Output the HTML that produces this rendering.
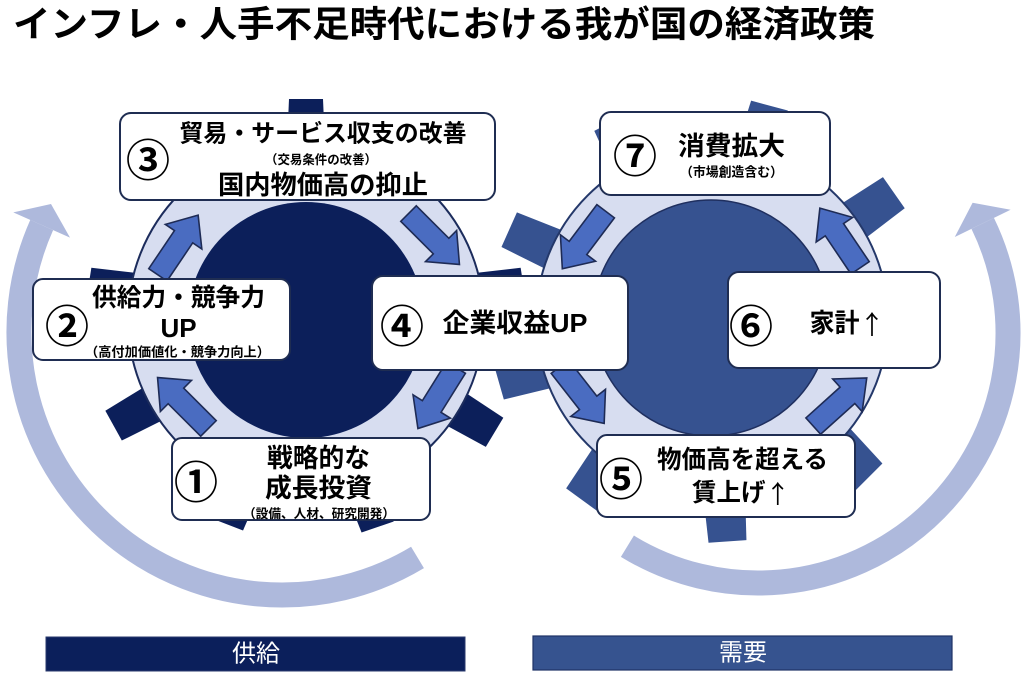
<!DOCTYPE html>
<html>
<head>
<meta charset="utf-8">
<style>
html,body{margin:0;padding:0;background:#fff;}
svg{display:block;}
text{font-family:"Liberation Sans","Noto Sans CJK JP",sans-serif;}
.b{font-weight:700;fill:#000;}
.c{font-family:"Noto Sans CJK JP",sans-serif;font-weight:700;fill:#000;}
.ar{font-family:"Noto Sans CJK JP",sans-serif;font-weight:400;}
</style>
</head>
<body>
<svg width="1024" height="679" viewBox="0 0 1024 679" xmlns="http://www.w3.org/2000/svg">
<rect width="1024" height="679" fill="#fff"/>

<!-- Title -->
<text class="b" x="13" y="24" font-size="36" dominant-baseline="central" textLength="862" lengthAdjust="spacingAndGlyphs">インフレ・人手不足時代における我が国の経済政策</text>

<!-- Big arcs -->
<path d="M417.5 557.4 A263 263 0 0 1 41.7 225.0" fill="none" stroke="#aeb9dc" stroke-width="25"/>
<polygon points="13.3,212.4 70,237.6 51,204" fill="#aeb9dc"/>
<path d="M627.4 546.2 A250 250 0 0 0 982.7 223.4" fill="none" stroke="#aeb9dc" stroke-width="25"/>
<polygon points="954.8,237 1010.6,209.8 972.6,202.7" fill="#aeb9dc"/>

<!-- Left gear -->
<g transform="translate(306,319)">
  <g fill="#0c1f5a">
    <polygon transform="rotate(31)" points="150,-20 220,-17 220,17 150,20"/>
    <polygon transform="rotate(71)" points="150,-20 220,-17 220,17 150,20"/>
    <polygon transform="rotate(111)" points="150,-20 220,-17 220,17 150,20"/>
    <polygon transform="rotate(151)" points="150,-20 220,-17 220,17 150,20"/>
    <polygon transform="rotate(189)" points="150,-20 220,-17 220,17 150,20"/>
    <polygon transform="rotate(231)" points="150,-20 220,-17 220,17 150,20"/>
    <polygon transform="rotate(270)" points="150,-20 220,-17 220,17 150,20"/>
    <polygon transform="rotate(311)" points="150,-20 220,-17 220,17 150,20"/>
    <polygon transform="rotate(351)" points="150,-20 220,-17 220,17 150,20"/>
  </g>
  <circle r="178" fill="#d7ddf0" stroke="#1c2c5c" stroke-width="2"/>
  <circle cy="1" r="118" fill="#0c1f5a"/>
</g>

<!-- Right gear -->
<g transform="translate(712,320)">
  <g fill="#365290">
    <polygon transform="rotate(5)" points="150,-22 222,-19 222,19 150,22"/>
    <polygon transform="rotate(45)" points="150,-22 222,-19 222,19 150,22"/>
    <polygon transform="rotate(86)" points="150,-22 222,-19 222,19 150,22"/>
    <polygon transform="rotate(126)" points="150,-22 222,-19 222,19 150,22"/>
    <polygon transform="rotate(164)" points="150,-22 222,-19 222,19 150,22"/>
    <polygon transform="rotate(204)" points="150,-22 222,-19 222,19 150,22"/>
    <polygon transform="rotate(243)" points="150,-22 222,-19 222,19 150,22"/>
    <polygon transform="rotate(285)" points="150,-22 222,-19 222,19 150,22"/>
    <polygon transform="rotate(325)" points="150,-22 222,-19 222,19 150,22"/>
  </g>
  <circle r="176" fill="#d7ddf0" stroke="#24386a" stroke-width="2"/>
  <circle cx="-1" cy="-2" r="118" fill="#365290" stroke="#1f2f5f" stroke-width="1.5"/>
</g>

<!-- Small block arrows -->
<g fill="#4a6cc1" stroke="#1e2b55" stroke-width="1.6" stroke-linejoin="miter">
  <polygon transform="translate(183,403) rotate(-135)" points="-36,-11 10,-11 10,-22 36,0 10,22 10,11 -36,11"/>
  <polygon transform="translate(178,245) rotate(-56)" points="-36,-11 10,-11 10,-22 36,0 10,22 10,11 -36,11"/>
  <polygon transform="translate(434,239) rotate(45)" points="-36,-11 10,-11 10,-22 36,0 10,22 10,11 -36,11"/>
  <polygon transform="translate(437,398) rotate(122)" points="-36,-11 10,-11 10,-22 36,0 10,22 10,11 -36,11"/>
  <polygon transform="translate(582,395) rotate(52)" points="-36,-11 10,-11 10,-22 36,0 10,22 10,11 -36,11"/>
  <polygon transform="translate(840,402) rotate(-42)" points="-36,-11 10,-11 10,-22 36,0 10,22 10,11 -36,11"/>
  <polygon transform="translate(840,238) rotate(-124)" points="-36,-11 10,-11 10,-22 36,0 10,22 10,11 -36,11"/>
  <polygon transform="translate(584,240) rotate(127)" points="-36,-11 10,-11 10,-22 36,0 10,22 10,11 -36,11"/>
</g>

<!-- Boxes -->
<g fill="#fff" stroke="#1f2d52" stroke-width="2">
  <rect x="120" y="113" width="375" height="87" rx="11"/>
  <rect x="33" y="279" width="257" height="81" rx="10"/>
  <rect x="372" y="276" width="256" height="94" rx="11"/>
  <rect x="172" y="438" width="258" height="82" rx="10"/>
  <rect x="600" y="112" width="230" height="83" rx="11"/>
  <rect x="728" y="272" width="212" height="96" rx="11"/>
  <rect x="597" y="435" width="258" height="82" rx="10"/>
</g>

<!-- Box 3 -->
<text class="c" x="148" y="157" font-size="44" text-anchor="middle" dominant-baseline="central">③</text>
<text class="b" x="323" y="134" font-size="24" text-anchor="middle" dominant-baseline="central" textLength="287" lengthAdjust="spacingAndGlyphs">貿易・サービス収支の改善</text>
<text class="b" x="321" y="160" font-size="12.5" text-anchor="middle" dominant-baseline="central" textLength="112" lengthAdjust="spacingAndGlyphs">（交易条件の改善）</text>
<text class="b" x="323" y="185" font-size="26" text-anchor="middle" dominant-baseline="central" textLength="210" lengthAdjust="spacingAndGlyphs">国内物価高の抑止</text>

<!-- Box 2 -->
<text class="c" x="67" y="323" font-size="44" text-anchor="middle" dominant-baseline="central">②</text>
<text class="b" x="178.5" y="298" font-size="25" text-anchor="middle" dominant-baseline="central" textLength="173" lengthAdjust="spacingAndGlyphs">供給力・競争力</text>
<text class="b" x="178.5" y="328" font-size="26" text-anchor="middle" dominant-baseline="central">UP</text>
<text class="b" x="177.5" y="352" font-size="13" text-anchor="middle" dominant-baseline="central" textLength="185" lengthAdjust="spacingAndGlyphs">（高付加価値化・競争力向上）</text>

<!-- Box 4 -->
<text class="c" x="402" y="323" font-size="44" text-anchor="middle" dominant-baseline="central">④</text>
<text class="b" x="515" y="323" font-size="26" text-anchor="middle" dominant-baseline="central" textLength="145" lengthAdjust="spacingAndGlyphs">企業収益UP</text>

<!-- Box 1 -->
<text class="c" x="196" y="479" font-size="44" text-anchor="middle" dominant-baseline="central">①</text>
<text class="b" x="318.5" y="458" font-size="26" text-anchor="middle" dominant-baseline="central" textLength="103" lengthAdjust="spacingAndGlyphs">戦略的な</text>
<text class="b" x="318.5" y="488" font-size="26" text-anchor="middle" dominant-baseline="central" textLength="107" lengthAdjust="spacingAndGlyphs">成長投資</text>
<text class="b" x="319" y="514" font-size="12.7" text-anchor="middle" dominant-baseline="central" textLength="152" lengthAdjust="spacingAndGlyphs">（設備、人材、研究開発）</text>

<!-- Box 7 -->
<text class="c" x="635" y="153" font-size="44" text-anchor="middle" dominant-baseline="central">⑦</text>
<text class="b" x="731.5" y="146" font-size="26" text-anchor="middle" dominant-baseline="central" textLength="107" lengthAdjust="spacingAndGlyphs">消費拡大</text>
<text class="b" x="731.5" y="172" font-size="13" text-anchor="middle" dominant-baseline="central" textLength="103" lengthAdjust="spacingAndGlyphs">（市場創造含む）</text>

<!-- Box 6 -->
<text class="c" x="751" y="323" font-size="44" text-anchor="middle" dominant-baseline="central">⑥</text>
<text class="b" x="847" y="323" font-size="26" text-anchor="middle" dominant-baseline="central" textLength="75" lengthAdjust="spacingAndGlyphs">家計<tspan class="ar">↑</tspan></text>

<!-- Box 5 -->
<text class="c" x="621" y="476" font-size="44" text-anchor="middle" dominant-baseline="central">⑤</text>
<text class="b" x="742.5" y="460" font-size="25" text-anchor="middle" dominant-baseline="central" textLength="171" lengthAdjust="spacingAndGlyphs">物価高を超える</text>
<text class="b" x="741" y="493" font-size="25" text-anchor="middle" dominant-baseline="central" textLength="98" lengthAdjust="spacingAndGlyphs">賃上げ<tspan class="ar">↑</tspan></text>

<!-- Bottom bars -->
<rect x="46" y="637" width="419" height="34" fill="#0b1f5b" stroke="#2a3a6c" stroke-width="1"/>
<text x="256" y="654" font-size="24" fill="#fff" text-anchor="middle" dominant-baseline="central">供給</text>
<rect x="533" y="636" width="419" height="34" fill="#36538f" stroke="#1f3266" stroke-width="1.2"/>
<text x="743" y="653" font-size="24" fill="#fff" text-anchor="middle" dominant-baseline="central">需要</text>
</svg>
</body>
</html>
